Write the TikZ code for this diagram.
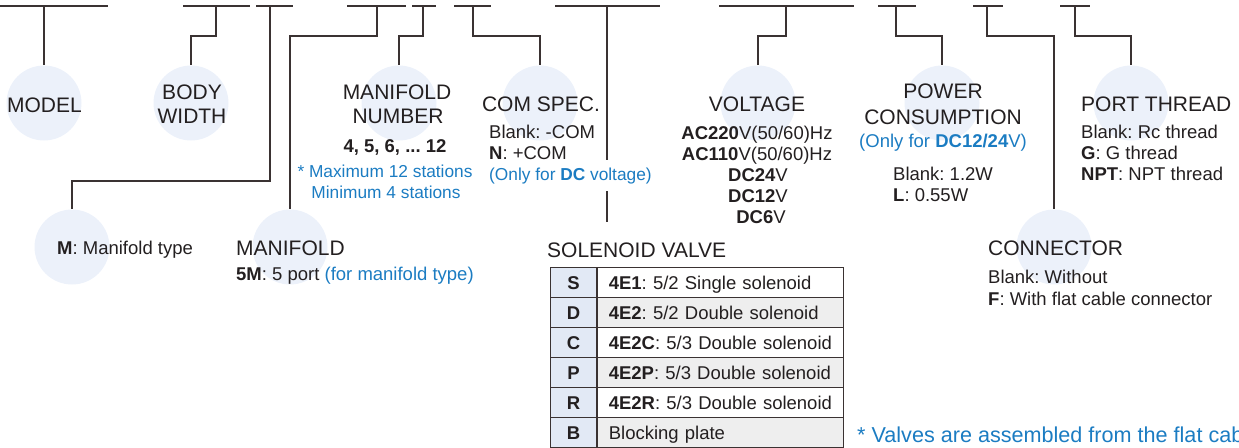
\documentclass[tikz,border=0pt]{standalone}
\usepackage{fontspec}
\setmainfont{Liberation Sans}
\usepackage{xcolor}
\usetikzlibrary{positioning}
\frenchspacing

\definecolor{linec}{HTML}{3A3232}
\definecolor{textc}{HTML}{231F20}
\definecolor{dotc}{HTML}{ECF1FA}
\definecolor{cblue}{HTML}{1B7CC2}
\definecolor{keyc}{HTML}{E2E9F5}
\definecolor{rowc}{HTML}{EEEEEE}

\tikzset{
  dot/.style={circle, fill=dotc, minimum size=75pt, inner sep=0},
  lead/.style={draw=linec, line width=1.3pt},
  head/.style={font=\fontsize{21}{24}\selectfont, text=textc, inner sep=0, anchor=base},
  body/.style={font=\fontsize{18.5}{21}\selectfont, text=textc, inner sep=0, anchor=base},
  note/.style={font=\fontsize{17.3}{20}\selectfont, text=cblue, inner sep=0, anchor=base},
  keycell/.style={draw=linec, line width=1.2pt, fill=keyc, anchor=north west,
    minimum width=46pt, minimum height=30pt, inner sep=0,
    text height=14pt, text depth=1pt, font=\fontsize{18.5}{21}\selectfont, text=textc},
  valcell/.style={draw=linec, line width=1.2pt, anchor=north west,
    text width=224pt, inner xsep=11pt, inner ysep=0, minimum height=30pt, align=left,
    text height=14pt, text depth=1pt, font=\fontsize{18.5}{21}\selectfont, text=textc}
}

\begin{document}
\begin{tikzpicture}[x=1pt,y=-1pt]
    \useasboundingbox (0,0) rectangle (1239,447);

    % code circles
    \node[dot] (cmodel) at (44,103) {};
    \node[dot] (cbody) at (191,103) {};
    \node[dot] (cnum) at (399,103) {};
    \node[dot] (ccom) at (540,103) {};
    \node[dot] (cvolt) at (758,103) {};
    \node[dot] (cpow) at (942,103) {};
    \node[dot] (cport) at (1131,103) {};
    \node[dot] (ctype) at (72,247) {};
    \node[dot] (cmani) at (290,247) {};
    \node[dot] (ccon) at (1054,247) {};

    % code bars
    \foreach \a/\b in {0/108,183/250,256/293,347/406,412/436,454/491,555/660,719/854,878/916,973/1003,1060/1090}
        \draw[lead] (\a,6) -- (\b,6);
    \foreach \n/\x in {model/44,body/216,type/270,mani/377,num/423,com/473,sol/607,volt/786,pow/896,con/987,port/1075}
        \coordinate (t\n) at (\x,6);

    % leaders
    \draw[lead] (tmodel) -- (cmodel.north);
    \draw[lead] (tbody) -- ++(0,30) -| (cbody.north);
    \draw[lead] (ttype) -- ++(0,175) -| (ctype.north);
    \draw[lead] (tmani) -- ++(0,30) -| (cmani.north);
    \draw[lead] (tnum) -- ++(0,30) -| (cnum.north);
    \draw[lead] (tcom) -- ++(0,30) -| (ccom.north);
    \coordinate (solend) at (607,222);
    \draw[lead] (tsol) -- (solend);
    \draw[lead] (tvolt) -- ++(0,30) -| (cvolt.north);
    \draw[lead] (tpow) -- ++(0,30) -| (cpow.north);
    \draw[lead] (tcon) -- ++(0,30) -| (ccon.north);
    \draw[lead] (tport) -- ++(0,30) -| (cport.north);

    % upper row
    \node[head] (model) at (44.5,112.5) {MODEL};
    \node[head] (body1) at (192,99) {BODY};
    \node[head] (body2) at (192,123) {WIDTH};
    \node[head] (num1) at (397,99) {MANIFOLD};
    \node[head] (num2) at (398,123) {NUMBER};
    \node[body] (num3) at (395,152) {\textbf{4, 5, 6, ... 12}};
    \node[note] (num4) at (385,177) {* Maximum 12 stations};
    \node[note] (num5) at (386,198) {Minimum 4 stations};
    \node[head] (com) at (541,111) {COM SPEC.};
    \node[body, anchor=base west] (com1) at (489,138) {Blank: -COM};
    \node[body, anchor=base west] (com2) at (489,159) {\textbf{N}: +COM};
    \node[note, anchor=base west, fill=white, inner ysep=7pt] (com3) at (489,180) {(Only for \textbf{DC} voltage)};
    \node[head] (volt) at (757,111) {VOLTAGE};
    \node[body] (volt1) at (757,139) {\textbf{AC220}V(50/60)Hz};
    \node[body] (volt2) at (757,160) {\textbf{AC110}V(50/60)Hz};
    \node[body] (volt3) at (758,181) {\textbf{DC24}V};
    \node[body] (volt4) at (758,202) {\textbf{DC12}V};
    \node[body] (volt5) at (761,223) {\textbf{DC6}V};
    \node[head] (pow1) at (943,98) {POWER};
    \node[head] (pow2) at (943,124) {CONSUMPTION};
    \node[body, text=cblue] (pow3) at (943,147) {(Only for \textbf{DC12/24}V)};
    \node[body, anchor=base west] (pow4) at (893,180) {Blank: 1.2W};
    \node[body, anchor=base west] (pow5) at (893,201) {\textbf{L}: 0.55W};
    \node[head, anchor=base west] (port) at (1081,111) {PORT THREAD};
    \node[body, anchor=base west] (port1) at (1081,138) {Blank: Rc thread};
    \node[body, anchor=base west] (port2) at (1081,159) {\textbf{G}: G thread};
    \node[body, anchor=base west] (port3) at (1081,180) {\textbf{NPT}: NPT thread};

    % lower row
    \node[body, anchor=base west] (type) at (57,254) {\textbf{M}: Manifold type};
    \node[head, anchor=base west] (mani) at (236,255) {MANIFOLD};
    \node[body, anchor=base west] (mani1) at (236,280) {\textbf{5M}: 5 port \textcolor{cblue}{(for manifold type)}};
    \node[head, anchor=base west] (con) at (988,255) {CONNECTOR};
    \node[body, anchor=base west] (con1) at (988,283) {Blank: Without};
    \node[body, anchor=base west] (con2) at (988,305) {\textbf{F}: With flat cable connector};

    % solenoid valve table
    \node[head, anchor=base west] (sol) at (547,257) {SOLENOID VALVE};
    \foreach \k/\d [count=\i from 0] in {S/{\textbf{4E1}: 5/2 Single solenoid},
        D/{\textbf{4E2}: 5/2 Double solenoid}, C/{\textbf{4E2C}: 5/3 Double solenoid},
        P/{\textbf{4E2P}: 5/3 Double solenoid}, R/{\textbf{4E2R}: 5/3 Double solenoid},
        B/{Blocking plate}} {
        \ifodd\i \def\rowfill{rowc}\else\def\rowfill{white}\fi
        \node[keycell] (k\k) at (550,{267+30*\i}) {\textbf{\k}};
        \node[valcell, fill=\rowfill] (d\k) at (k\k.north east) {\d};
    }

    \node[font=\fontsize{21.6}{24}\selectfont, text=cblue, inner sep=0, anchor=base west] (note) at (857,442) {* Valves are assembled from the flat cab};
\end{tikzpicture}
\end{document}
